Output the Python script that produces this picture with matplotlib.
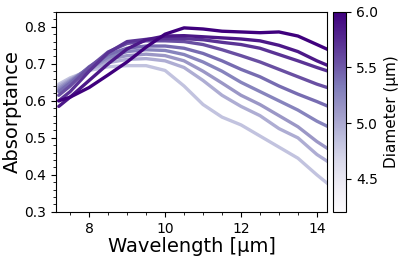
"""Absorptance spectra for a set of particle diameters, coloured by diameter."""

import matplotlib

matplotlib.use('Agg')
import matplotlib.pyplot as plt
import numpy as np
from matplotlib.cm import ScalarMappable
from matplotlib.colors import Normalize

# Wavelength sample points (um)
wavelength = [7.2, 7.5, 8.0, 8.5, 9.0, 9.5, 10.0, 10.5, 11.0, 11.5,
              12.0, 12.5, 13.0, 13.5, 14.0, 14.3]

# Diameters (um) of the plotted spectra
diameters = [4.4, 4.6, 4.8, 5.0, 5.2, 5.4, 5.6, 5.8, 6.0]

# Absorptance per diameter
abs_44 = [0.645, 0.662, 0.682, 0.692, 0.695, 0.695, 0.682, 0.640, 0.590, 0.556,
          0.535, 0.505, 0.475, 0.445, 0.400, 0.375]
abs_46 = [0.640, 0.658, 0.685, 0.703, 0.712, 0.714, 0.708, 0.690, 0.655, 0.615,
          0.585, 0.560, 0.525, 0.500, 0.455, 0.435]
abs_48 = [0.635, 0.655, 0.688, 0.712, 0.722, 0.726, 0.722, 0.708, 0.680, 0.648,
          0.615, 0.590, 0.560, 0.530, 0.490, 0.470]
abs_50 = [0.630, 0.652, 0.690, 0.718, 0.733, 0.738, 0.736, 0.725, 0.705, 0.680,
          0.650, 0.625, 0.600, 0.575, 0.545, 0.530]
abs_52 = [0.625, 0.648, 0.692, 0.725, 0.742, 0.748, 0.748, 0.742, 0.728, 0.708,
          0.685, 0.665, 0.640, 0.618, 0.598, 0.585]
abs_54 = [0.615, 0.640, 0.690, 0.732, 0.755, 0.762, 0.762, 0.760, 0.752, 0.738,
          0.722, 0.705, 0.685, 0.665, 0.645, 0.635]
abs_56 = [0.600, 0.625, 0.680, 0.730, 0.760, 0.766, 0.768, 0.768, 0.765, 0.758,
          0.752, 0.742, 0.725, 0.708, 0.690, 0.680]
abs_58 = [0.585, 0.610, 0.655, 0.700, 0.740, 0.765, 0.775, 0.776, 0.773, 0.770,
          0.767, 0.762, 0.750, 0.733, 0.708, 0.695]
abs_60 = [0.600, 0.610, 0.636, 0.670, 0.705, 0.745, 0.780, 0.797, 0.794, 0.788,
          0.786, 0.784, 0.786, 0.775, 0.752, 0.738]

spectra = [abs_44, abs_46, abs_48, abs_50, abs_52, abs_54, abs_56, abs_58, abs_60]

cbar_ticks = [4.5, 5.0, 5.5, 6.0]


def main() -> None:
    cmap = plt.get_cmap('Purples')
    norm = Normalize(vmin=4.2, vmax=6.0)
    shades = np.linspace(0.35, 1.0, len(diameters))

    fig = plt.figure(figsize=(3.98, 2.6), dpi=100)
    ax = fig.add_axes([0.141, 0.185, 0.681, 0.769])
    cax = fig.add_axes([0.837, 0.185, 0.033, 0.769])

    for spec, shade in zip(spectra, shades):
        ax.plot(wavelength, spec, color=cmap(shade), lw=2.4,
                solid_capstyle='round', solid_joinstyle='round')

    ax.set_xlim(7.13, 14.27)
    ax.set_ylim(0.3, 0.84)
    ax.set_xticks([8, 10, 12, 14])
    ax.set_yticks([0.3, 0.4, 0.5, 0.6, 0.7, 0.8])
    ax.minorticks_on()
    ax.tick_params(labelsize=10)
    ax.set_xlabel('Wavelength [µm]', fontsize=14, labelpad=1)
    ax.set_ylabel('Absorptance', fontsize=14, labelpad=2)

    sm = ScalarMappable(norm=norm, cmap=cmap)
    cb = fig.colorbar(sm, cax=cax, ticks=cbar_ticks)
    cb.ax.tick_params(labelsize=10)
    cb.set_label('Diameter (µm)', fontsize=11)

    fig.savefig('out.png', dpi=100)


if __name__ == '__main__':
    main()
